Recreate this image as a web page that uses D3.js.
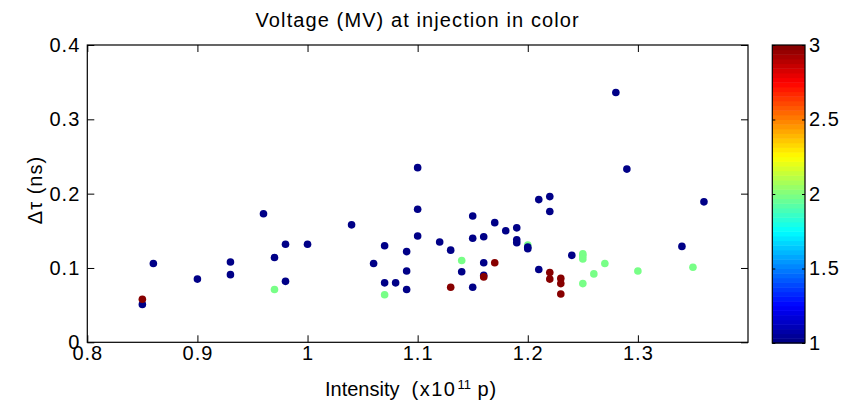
<!DOCTYPE html>
<html>
<head>
<meta charset="utf-8">
<script src="https://cdn.jsdelivr.net/npm/d3@7"></script>
<style>
  body { margin: 0; background: #fff; }
  text { font-family: "Liberation Sans", Arial, sans-serif; fill: #000; }
</style>
</head>
<body>
<div id="main"></div>
<script>
// beam intensity (x1e11 p), delta tau (ns), injection voltage (MV)
var intensity = [
  0.97, 1.07, 1.14, 1.20, 1.25, 1.25, 1.25, 1.25, 1.26, 1.27, 1.30, 1.35,
  0.85, 0.86, 0.90, 0.93, 0.93, 0.96, 0.97, 0.98, 0.98, 1.00, 1.04, 1.06,
  1.07, 1.07, 1.08, 1.09, 1.09, 1.09, 1.10, 1.10, 1.10, 1.12, 1.13, 1.14,
  1.15, 1.15, 1.15, 1.16, 1.16, 1.16, 1.17, 1.18, 1.19, 1.19, 1.19, 1.20,
  1.20, 1.21, 1.21, 1.22, 1.22, 1.24, 1.28, 1.29, 1.34, 1.36,
  0.85, 1.13, 1.16, 1.17, 1.22, 1.22, 1.23, 1.23, 1.23
];
var dtau = [
  0.071, 0.064, 0.110, 0.131, 0.119, 0.116, 0.112, 0.079, 0.092, 0.106, 0.096, 0.101,
  0.051, 0.106, 0.085, 0.108, 0.091, 0.173, 0.114, 0.132, 0.082, 0.132, 0.158, 0.106,
  0.130, 0.080, 0.080, 0.122, 0.096, 0.071, 0.235, 0.179, 0.143, 0.135, 0.124, 0.095,
  0.170, 0.140, 0.074, 0.142, 0.107, 0.090, 0.161, 0.150, 0.154, 0.138, 0.134, 0.128,
  0.126, 0.192, 0.098, 0.196, 0.176, 0.117, 0.336, 0.233, 0.129, 0.189,
  0.058, 0.074, 0.088, 0.107, 0.094, 0.085, 0.086, 0.079, 0.065
];
var voltage = [
  2, 2, 2, 2, 2, 2, 2, 2, 2, 2, 2, 2,
  1, 1, 1, 1, 1, 1, 1, 1, 1, 1, 1, 1,
  1, 1, 1, 1, 1, 1, 1, 1, 1, 1, 1, 1,
  1, 1, 1, 1, 1, 1, 1, 1, 1, 1, 1, 1,
  1, 1, 1, 1, 1, 1, 1, 1, 1, 1,
  3, 3, 3, 3, 3, 3, 3, 3, 3
];
var xTicks = [0.8, 0.9, 1.0, 1.1, 1.2, 1.3];
var yTicks = [0, 0.1, 0.2, 0.3, 0.4];
var cTicks = [1, 1.5, 2, 2.5, 3];

var data = intensity.map(function(d, i) {
  return { x: d, y: dtau[i], v: voltage[i] };
});

var width = 858, height = 407;
var plotL = 87.3, plotR = 748, plotT = 45, plotB = 342.3;

var svg = d3.select('#main')
  .append('svg')
  .attr('width', width)
  .attr('height', height);

svg.append('rect').attr('width', width).attr('height', height).attr('fill', '#fff');

var x = d3.scaleLinear().domain([0.8, 1.4]).range([plotL, plotR]);
var y = d3.scaleLinear().domain([0, 0.4]).range([plotB, plotT]);

// matlab jet colormap, 64 levels
function jet(t) {
  var n = 64;
  var k = Math.min(n - 1, Math.floor(t * n));
  var u = (k + 0.5) / n;
  function c(v) { return Math.max(0, Math.min(1, v)); }
  var r = c(1.5 - Math.abs(4 * u - 3));
  var g = c(1.5 - Math.abs(4 * u - 2));
  var b = c(1.5 - Math.abs(4 * u - 1));
  return d3.rgb(r * 255, g * 255, b * 255);
}
var cnorm = d3.scaleLinear().domain([1, 3]).range([0, 0.9999]).clamp(true);

var fmt = function(d) { return String(+d.toFixed(1)); };

// axes
var gx = svg.append('g').attr('transform', 'translate(0,' + plotB + ')')
  .call(d3.axisBottom(x).tickValues(xTicks).tickSizeInner(-7).tickSizeOuter(0)
    .tickPadding(3).tickFormat(fmt));
var gxt = svg.append('g').attr('transform', 'translate(0,' + plotT + ')')
  .call(d3.axisTop(x).tickValues(xTicks).tickSizeInner(-7).tickSizeOuter(0).tickFormat(''));
var gy = svg.append('g').attr('transform', 'translate(' + plotL + ',0)')
  .call(d3.axisLeft(y).tickValues(yTicks).tickSizeInner(-7).tickSizeOuter(0)
    .tickPadding(7).tickFormat(fmt));
var gyr = svg.append('g').attr('transform', 'translate(' + plotR + ',0)')
  .call(d3.axisRight(y).tickValues(yTicks).tickSizeInner(-7).tickSizeOuter(0).tickFormat(''));

[gx, gxt, gy, gyr].forEach(function(g) {
  g.select('.domain').remove();
  g.selectAll('line').attr('stroke', '#000');
  g.selectAll('text').attr('font-size', 20).attr('letter-spacing', 1)
    .attr('font-family', '"Liberation Sans", Arial, sans-serif');
});

svg.append('rect')
  .attr('x', plotL).attr('y', plotT)
  .attr('width', plotR - plotL).attr('height', plotB - plotT)
  .attr('fill', 'none').attr('stroke', '#000').attr('stroke-width', 1.2);

// points
svg.append('g').selectAll('circle')
  .data(data)
  .enter()
  .append('circle')
  .attr('cx', function(d) { return x(d.x); })
  .attr('cy', function(d) { return y(d.y); })
  .attr('r', 3.8)
  .attr('fill', function(d) { return jet(cnorm(d.v)); });

// title + labels
svg.append('text')
  .attr('x', (plotL + plotR) / 2).attr('y', 27)
  .attr('text-anchor', 'middle').attr('font-size', 20).attr('letter-spacing', 1.1)
  .text('Voltage (MV) at injection in color');

var xl = svg.append('text')
  .attr('x', 325).attr('y', 396)
  .attr('font-size', 20);
xl.append('tspan').text('Intensity');
xl.append('tspan').attr('dx', 12).attr('letter-spacing', 1.5).text('(x10');
xl.append('tspan').attr('font-size', 13).attr('dx', 1).attr('dy', -7).text('11');
xl.append('tspan').attr('dy', 7).attr('letter-spacing', 1).text('\u00a0p)');

var yl = svg.append('text')
  .attr('transform', 'translate(42,190) rotate(-90)')
  .attr('text-anchor', 'middle').attr('font-size', 20);
yl.append('tspan').attr('letter-spacing', 1).text('\u0394\u03c4 ');
yl.append('tspan').attr('letter-spacing', 1).text('(ns)');

// colorbar
var cbL = 772.3, cbR = 805, cbT = 45, cbB = 343;
var cy = d3.scaleLinear().domain([1, 3]).range([cbB, cbT]);
var levels = d3.range(64);
var step = (cbB - cbT) / 64;
svg.append('g').selectAll('rect')
  .data(levels)
  .enter()
  .append('rect')
  .attr('x', cbL)
  .attr('y', function(d) { return cbB - (d + 1) * step; })
  .attr('width', cbR - cbL)
  .attr('height', step + 0.5)
  .attr('fill', function(d) { return jet((d + 0.5) / 64); });

var gc = svg.append('g').attr('transform', 'translate(' + cbR + ',0)')
  .call(d3.axisRight(cy).tickValues(cTicks).tickSizeInner(-3).tickSizeOuter(0)
    .tickPadding(4).tickFormat(function(d) { return String(d); }));
var gcl = svg.append('g').attr('transform', 'translate(' + cbL + ',0)')
  .call(d3.axisLeft(cy).tickValues(cTicks).tickSizeInner(-3).tickSizeOuter(0).tickFormat(''));
[gc, gcl].forEach(function(g) {
  g.select('.domain').remove();
  g.selectAll('line').attr('stroke', '#000');
  g.selectAll('text').attr('font-size', 20).attr('letter-spacing', 1)
    .attr('font-family', '"Liberation Sans", Arial, sans-serif');
});
svg.append('rect')
  .attr('x', cbL).attr('y', cbT)
  .attr('width', cbR - cbL).attr('height', cbB - cbT)
  .attr('fill', 'none').attr('stroke', '#000').attr('stroke-width', 1.2);
</script>
</body>
</html>
